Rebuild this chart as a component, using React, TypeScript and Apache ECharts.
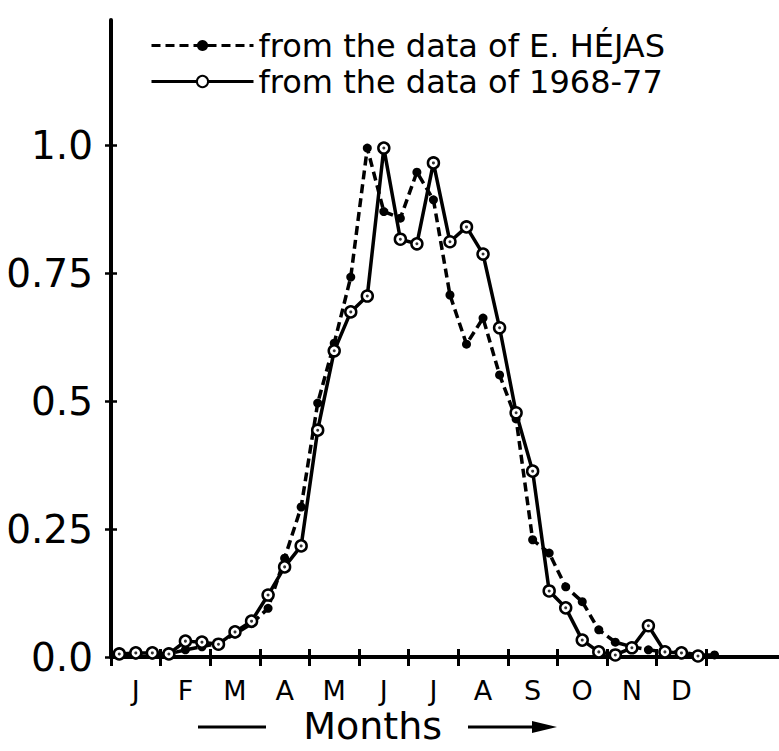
import React, { useEffect, useRef } from 'react';
import * as echarts from 'echarts';

const months = ['J', 'F', 'M', 'A', 'M', 'J', 'J', 'A', 'S', 'O', 'N', 'D'];
const yTickValues = [0, 0.25, 0.5, 0.75, 1.0];
const seriesNames = ['from the data of E. HÉJAS', 'from the data of 1968-77'];
const axisTitle = 'Months';

// ten-day (decade) values, three per month
const hejasValues = [
  0.004, 0.004, 0.004, 0.006, 0.014, 0.02, 0.027, 0.045, 0.065, 0.095, 0.193, 0.293,
  0.496, 0.613, 0.742, 0.994, 0.87, 0.857, 0.947, 0.893, 0.707, 0.611, 0.662, 0.551,
  0.465, 0.229, 0.203, 0.137, 0.108, 0.053, 0.029, 0.02, 0.014, 0.01, 0.01, 0.004, 0.004,
];
const recentValues = [
  0.006, 0.008, 0.008, 0.006, 0.031, 0.029, 0.025, 0.049, 0.07, 0.121, 0.176, 0.217,
  0.443, 0.598, 0.674, 0.705, 0.994, 0.816, 0.807, 0.965, 0.811, 0.84, 0.787, 0.643,
  0.477, 0.363, 0.129, 0.096, 0.033, 0.01, 0.004, 0.018, 0.061, 0.01, 0.008, 0.002,
];

const FONT = 'DejaVu Sans';
const toPoints = (vals: number[]) => vals.map((v, i) => [i + 0.5, v]);

export default function App() {
  const ref = useRef<HTMLDivElement>(null);
  useEffect(() => {
    if (!ref.current) return;
    const chart = echarts.init(ref.current, null, { renderer: 'svg' });
    const left = 111;
    const zeroY = 657;
    const unitPx = 512;
    const decadePx = 16.535;
    const bottom = 751 - zeroY;
    const topLine = 20;
    const yMax0 = (zeroY - topLine) / unitPx;
    const xMax0 = (779 - left) / decadePx;
    const monthsWidth = decadePx * 3 * months.length;

    chart.setOption({
      animation: false,
      backgroundColor: '#fff',
      textStyle: { fontFamily: FONT },
      legend: {
        data: seriesNames,
        orient: 'vertical',
        left: 145,
        top: 23,
        itemWidth: 102,
        itemHeight: 14,
        itemGap: 1,
        selectedMode: false,
        lineStyle: { width: 3 },
        textStyle: { fontSize: 32, color: '#000', fontFamily: FONT, lineHeight: 35 },
      },
      grid: [
        { left, right: 0, top: topLine, bottom, outerBoundsMode: 'none', containLabel: false },
        { left, width: monthsWidth, top: zeroY - unitPx, bottom, outerBoundsMode: 'none', containLabel: false },
      ],
      xAxis: [
        {
          gridIndex: 0, type: 'value', min: 0, max: xMax0, position: 'bottom',
          axisLine: { show: true, onZero: false, lineStyle: { color: '#000', width: 4 } },
          axisTick: { show: false }, axisLabel: { show: false }, splitLine: { show: false },
        },
        {
          gridIndex: 1, type: 'category', data: months, boundaryGap: true, position: 'bottom',
          axisLine: { show: false, onZero: false },
          axisTick: { show: true, interval: 0, length: 9, lineStyle: { color: '#000', width: 3 } },
          axisLabel: { interval: 0, fontSize: 27, lineHeight: 26, color: '#000', margin: 20, fontFamily: FONT },
          splitLine: { show: false },
          name: axisTitle, nameLocation: 'middle', nameGap: 50, nameMoveOverlap: false,
          nameTextStyle: { fontSize: 38, lineHeight: 38, color: '#000', fontFamily: FONT, padding: [0, 72, 0, 0] },
        },
        {
          gridIndex: 1, type: 'category', data: months, boundaryGap: true, position: 'bottom',
          axisLine: { show: false, onZero: false },
          axisTick: { show: true, interval: 0, inside: true, length: 8, lineStyle: { color: '#000', width: 3 } },
          axisLabel: { show: false }, splitLine: { show: false },
        },
      ],
      yAxis: [
        {
          gridIndex: 0, type: 'value', min: 0, max: yMax0, position: 'left',
          axisLine: { show: true, onZero: false, lineStyle: { color: '#000', width: 4 } },
          axisTick: { show: false }, axisLabel: { show: false }, splitLine: { show: false },
        },
        {
          gridIndex: 1, type: 'value', min: 0, max: 1, interval: 0.25, position: 'left',
          axisLine: { show: false, onZero: false },
          axisTick: { show: true, length: 6, lineStyle: { color: '#000', width: 2.5 } },
          axisLabel: {
            fontSize: 39, color: '#000', margin: 18, fontFamily: FONT,
            formatter: (v: number) => (yTickValues.includes(v) ? (v === 0 ? '0.0' : v === 1 ? '1.0' : String(v)) : ''),
          },
          splitLine: { show: false },
        },
        {
          gridIndex: 1, type: 'value', min: 0, max: 1, interval: 0.25, position: 'left',
          axisLine: { show: false, onZero: false },
          axisTick: { show: true, inside: true, length: 6, lineStyle: { color: '#000', width: 2.5 } },
          axisLabel: { show: false }, splitLine: { show: false },
        },
      ],
      series: [
        {
          name: seriesNames[0], type: 'line', xAxisIndex: 0, yAxisIndex: 0,
          data: toPoints(hejasValues), clip: false,
          symbol: 'circle', symbolSize: 9,
          itemStyle: { color: '#000' },
          lineStyle: { color: '#000', width: 3.5, type: [9, 5] },
          z: 2,
        },
        {
          name: seriesNames[1], type: 'line', xAxisIndex: 0, yAxisIndex: 0,
          data: toPoints(recentValues), clip: false,
          symbol: 'circle', symbolSize: 11, showAllSymbol: true,
          itemStyle: { color: '#fff', borderColor: '#000', borderWidth: 2.5 },
          lineStyle: { color: '#000', width: 3.5 },
          z: 3,
        },
        {
          name: 'centre dots', type: 'scatter', xAxisIndex: 0, yAxisIndex: 0,
          data: toPoints(recentValues), symbolSize: 3, silent: true,
          itemStyle: { color: '#000' }, z: 4,
        },
      ],
      graphic: [
        { type: 'line', shape: { x1: 198, y1: 727, x2: 266, y2: 727 }, style: { stroke: '#000', lineWidth: 3 } },
        { type: 'line', shape: { x1: 468, y1: 727, x2: 540, y2: 727 }, style: { stroke: '#000', lineWidth: 3 } },
        { type: 'polygon', shape: { points: [[532, 721], [557, 727], [532, 733]] }, style: { fill: '#000' } },
      ],
    });
    return () => chart.dispose();
  }, []);
  return (
    <div
      ref={ref}
      style={{ position: 'fixed', left: 0, top: 0, width: 779, height: 751, background: '#fff' }}
    />
  );
}
